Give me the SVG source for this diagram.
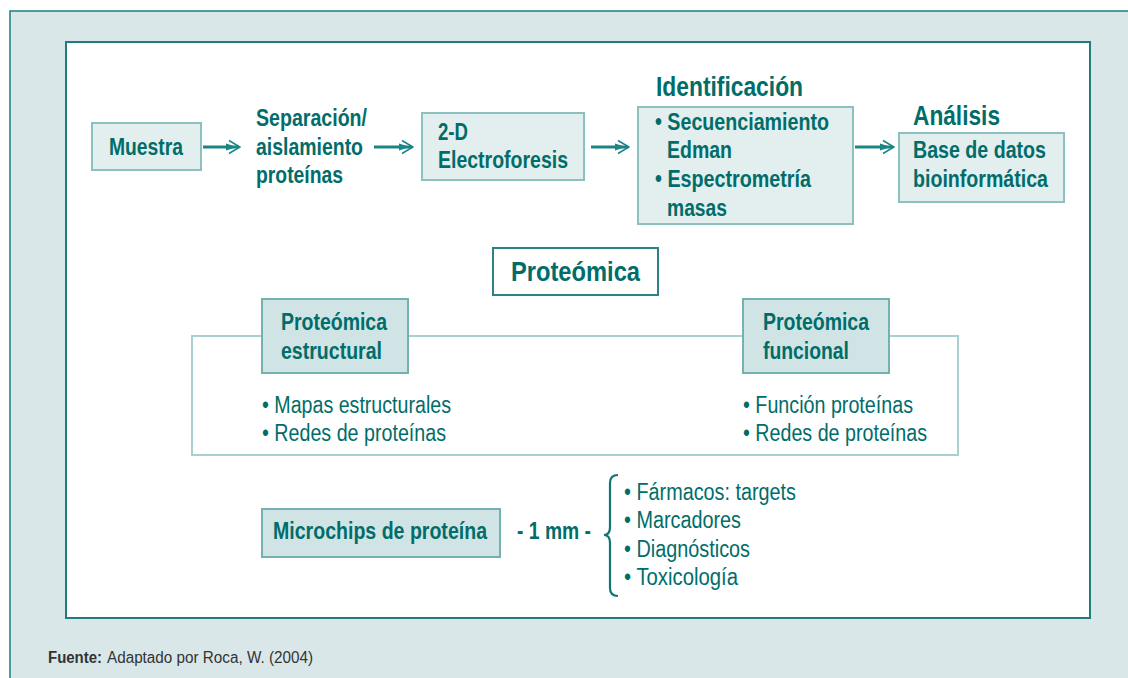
<svg xmlns="http://www.w3.org/2000/svg" width="1128" height="678" viewBox="0 0 1128 678">
<style>
text{font-family:"Liberation Sans",Arial,sans-serif}
.b{font-weight:bold;fill:#006d6a;font-size:23px}
.r{fill:#006d6a;font-size:23.5px}
.t{font-size:28px}
.f{font-size:16px;fill:#333}
.box1{fill:#e3eeef;stroke:#8cc0c1;stroke-width:2}
.box2{fill:#d1e4e5;stroke:#76b1b2;stroke-width:2}
.conn{stroke:#1b8586;stroke-width:3;fill:none}
</style>
<defs>
<marker id="ah" markerUnits="userSpaceOnUse" viewBox="0 0 16 16" refX="14" refY="8" markerWidth="16" markerHeight="16" orient="auto">
<path d="M1,4.5 L12,8 L1,11.5 Z" fill="#1b8586"/>
<path d="M4,1.5 L15,8 L4,14.5" stroke="#1b8586" stroke-width="1.6" fill="none"/>
</marker>
</defs>
<rect x="10" y="11" width="1130" height="680" fill="#d9e7e8" stroke="#1f7d7e" stroke-width="1.5"/>
<rect x="66" y="42" width="1024" height="576" fill="#fff" stroke="#1f7d7e" stroke-width="2"/>

<g id="connectors">
<line class="conn" x1="203" y1="147" x2="239" y2="147" marker-end="url(#ah)"/>
<line class="conn" x1="374" y1="147" x2="412" y2="147" marker-end="url(#ah)"/>
<line class="conn" x1="591" y1="147" x2="628" y2="147" marker-end="url(#ah)"/>
<line class="conn" x1="855" y1="147" x2="893" y2="147" marker-end="url(#ah)"/>
</g>

<g id="muestra">
<rect class="box1" x="92" y="123" width="109" height="47"/>
<text class="b" x="109" y="155" textLength="74" lengthAdjust="spacingAndGlyphs">Muestra</text>
</g>
<g id="separacion">
<text class="b" x="256" y="126" textLength="111" lengthAdjust="spacingAndGlyphs">Separación/</text>
<text class="b" x="256" y="155" textLength="107" lengthAdjust="spacingAndGlyphs">aislamiento</text>
<text class="b" x="256" y="183" textLength="87" lengthAdjust="spacingAndGlyphs">proteínas</text>
</g>
<g id="electroforesis">
<rect class="box1" x="422" y="113" width="162" height="67"/>
<text class="b" x="438" y="140" textLength="30" lengthAdjust="spacingAndGlyphs">2-D</text>
<text class="b" x="438" y="168" textLength="130" lengthAdjust="spacingAndGlyphs">Electroforesis</text>
</g>
<g id="identificacion">
<text class="b t" x="656" y="96" textLength="147" lengthAdjust="spacingAndGlyphs">Identificación</text>
<rect class="box1" x="638" y="107" width="215" height="117"/>
<text class="b" x="655" y="130" textLength="174" lengthAdjust="spacingAndGlyphs">• Secuenciamiento</text>
<text class="b" x="667" y="158" textLength="65" lengthAdjust="spacingAndGlyphs">Edman</text>
<text class="b" x="655" y="187" textLength="156" lengthAdjust="spacingAndGlyphs">• Espectrometría</text>
<text class="b" x="667" y="216" textLength="60" lengthAdjust="spacingAndGlyphs">masas</text>
</g>
<g id="analisis">
<text class="b t" x="913" y="125" textLength="87" lengthAdjust="spacingAndGlyphs">Análisis</text>
<rect class="box1" x="899" y="133" width="165" height="69"/>
<text class="b" x="913" y="158" textLength="133" lengthAdjust="spacingAndGlyphs">Base de datos</text>
<text class="b" x="913" y="187" textLength="135" lengthAdjust="spacingAndGlyphs">bioinformática</text>
</g>
<g id="proteomica">
<rect x="493" y="248" width="165" height="47" fill="#fff" stroke="#2a8384" stroke-width="2"/>
<text class="b t" x="511" y="281" textLength="129" lengthAdjust="spacingAndGlyphs">Proteómica</text>
</g>
<g id="panel">
<rect x="192" y="336" width="766" height="119" fill="none" stroke="#a9d0d1" stroke-width="2"/>
</g>
<g id="estructural">
<rect class="box2" x="262" y="299" width="146" height="74"/>
<text class="b" x="281" y="330" textLength="106" lengthAdjust="spacingAndGlyphs">Proteómica</text>
<text class="b" x="281" y="359" textLength="101" lengthAdjust="spacingAndGlyphs">estructural</text>
<text class="r" x="262" y="413" textLength="189" lengthAdjust="spacingAndGlyphs">• Mapas estructurales</text>
<text class="r" x="262" y="441" textLength="184" lengthAdjust="spacingAndGlyphs">• Redes de proteínas</text>
</g>
<g id="funcional">
<rect class="box2" x="743" y="299" width="146" height="74"/>
<text class="b" x="763" y="330" textLength="106" lengthAdjust="spacingAndGlyphs">Proteómica</text>
<text class="b" x="763" y="359" textLength="86" lengthAdjust="spacingAndGlyphs">funcional</text>
<text class="r" x="743" y="413" textLength="170" lengthAdjust="spacingAndGlyphs">• Función proteínas</text>
<text class="r" x="743" y="441" textLength="184" lengthAdjust="spacingAndGlyphs">• Redes de proteínas</text>
</g>
<g id="microchips">
<rect class="box2" x="262" y="509" width="238" height="48"/>
<text class="b" x="273" y="539" textLength="214" lengthAdjust="spacingAndGlyphs">Microchips de proteína</text>
<text class="b" x="517" y="539" textLength="74" lengthAdjust="spacingAndGlyphs">- 1 mm -</text>
<path d="M618,475 Q610,475 610,483 L610,527 Q610,535 604,535 Q610,535 610,543 L610,588 Q610,596 618,596" fill="none" stroke="#0f7574" stroke-width="2.2"/>
<text class="r" x="624" y="500" textLength="172" lengthAdjust="spacingAndGlyphs">• Fármacos: targets</text>
<text class="r" x="624" y="528" textLength="117" lengthAdjust="spacingAndGlyphs">• Marcadores</text>
<text class="r" x="624" y="557" textLength="126" lengthAdjust="spacingAndGlyphs">• Diagnósticos</text>
<text class="r" x="624" y="585" textLength="114" lengthAdjust="spacingAndGlyphs">• Toxicología</text>
</g>
<g id="fuente">
<text class="f" x="48" y="663" font-weight="bold" textLength="54" lengthAdjust="spacingAndGlyphs">Fuente:</text>
<text class="f" x="107" y="663" textLength="206" lengthAdjust="spacingAndGlyphs">Adaptado por Roca, W. (2004)</text>
</g>
</svg>
